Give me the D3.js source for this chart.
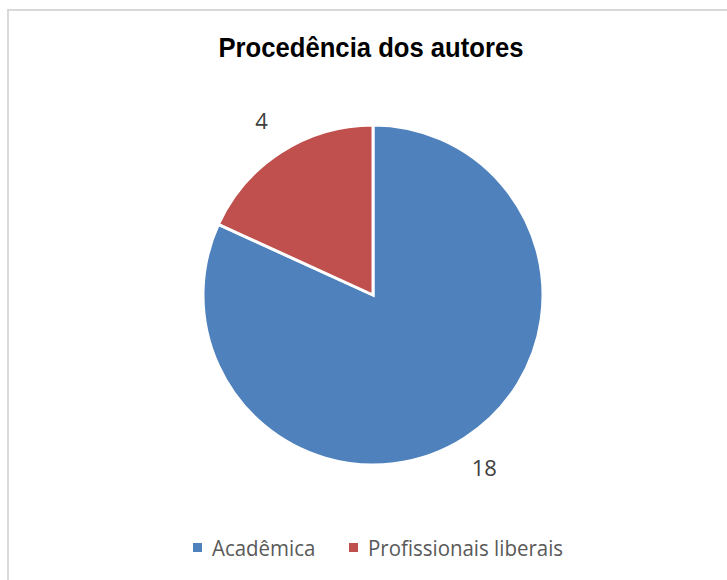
<!DOCTYPE html>
<html>
<head>
<meta charset="utf-8">
<script src="https://cdn.jsdelivr.net/npm/d3@7"></script>
<style>
  body { margin: 0; background: #fff; }
  .title { font-family: "Liberation Sans", Arial, sans-serif; font-weight: bold; font-size: 27px; fill: #000; }
  .slice-label { font-family: "Open Sans", "Noto Sans", sans-serif; font-size: 22px; fill: #404040; }
  .legend-label { font-family: "Open Sans", "Noto Sans", sans-serif; font-size: 22px; fill: #595959; }
</style>
</head>
<body>
<div class="chart"></div>
<script>
var width = 727, height = 580;

var categories = ["Acadêmica", "Profissionais liberais"];
var values = [18, 4];
var colors = ["#4F81BD", "#C0504D"];
var title = "Procedência dos autores";

var svg = d3.select(".chart").append("svg")
    .attr("width", width)
    .attr("height", height);

// chart frame
svg.append("rect")
    .attr("x", 8)
    .attr("y", 10)
    .attr("width", width + 10)
    .attr("height", height + 10)
    .attr("fill", "#fff")
    .attr("stroke", "#d9d9d9")
    .attr("stroke-width", 2);

svg.append("text")
    .attr("class", "title")
    .attr("transform", "translate(371,57) scale(0.95,1)")
    .attr("text-anchor", "middle")
    .text(title);

var data = categories.map(function(c, i){ return {name: c, value: values[i], color: colors[i]}; });

var cx = 373, cy = 295, radius = 170;

var pie = d3.pie()
    .sort(null)
    .value(function(d){ return d.value; });

var arc = d3.arc()
    .innerRadius(0)
    .outerRadius(radius);

var g = svg.append("g")
    .attr("transform", "translate(" + cx + "," + cy + ")");

var arcs = pie(data);

g.selectAll(".slice")
    .data(arcs)
  .enter().append("path")
    .attr("class", "slice")
    .attr("d", arc)
    .attr("fill", function(d){ return d.data.color; })
    .attr("stroke", "#fff")
    .attr("stroke-width", 3)
    .attr("stroke-linejoin", "miter");

// labels just outside the pie
var labelArc = d3.arc()
    .innerRadius(radius + 36)
    .outerRadius(radius + 36);

g.selectAll(".slice-label")
    .data(arcs)
  .enter().append("text")
    .attr("class", "slice-label")
    .attr("transform", function(d){ return "translate(" + labelArc.centroid(d) + ")"; })
    .attr("dy", "0.35em")
    .attr("text-anchor", "middle")
    .text(function(d){ return d.data.value; });

// legend
var legendX = [193, 349];
var legend = svg.append("g").attr("class", "legend");

var item = legend.selectAll(".legend-item")
    .data(data)
  .enter().append("g")
    .attr("class", "legend-item")
    .attr("transform", function(d, i){ return "translate(" + legendX[i] + ",548)"; });

item.append("rect")
    .attr("x", 0)
    .attr("y", -5)
    .attr("width", 9)
    .attr("height", 9)
    .attr("fill", function(d){ return d.color; });

item.append("text")
    .attr("class", "legend-label")
    .attr("transform", "translate(19,8) scale(0.93,1)")
    .text(function(d){ return d.name; });
</script>
</body>
</html>
